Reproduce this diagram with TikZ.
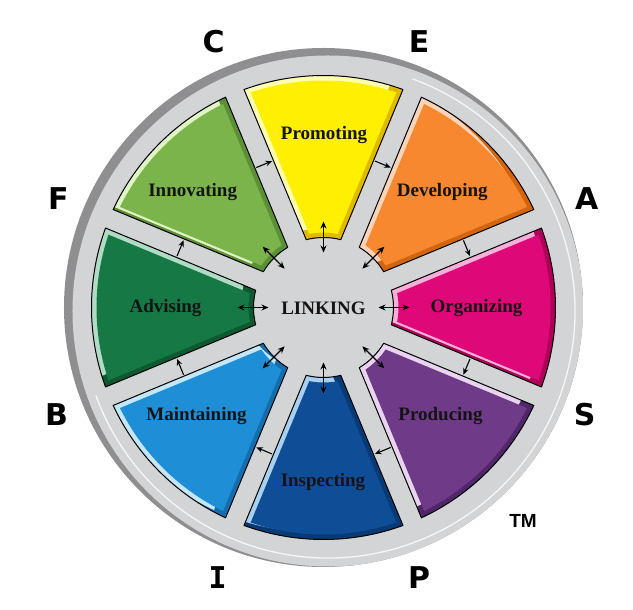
\documentclass[tikz,border=0pt]{standalone}
\usepackage{fontspec}
\setmainfont{Liberation Serif}
\newfontfamily\letfont{DejaVu Sans}
\newfontfamily\letmono{DejaVu Sans Mono}
\newfontfamily\tmfont{Liberation Sans}
\usetikzlibrary{arrows.meta,calc}

\definecolor{ringdark}{HTML}{8F8F91}
\definecolor{disc}{HTML}{D3D4D6}
\definecolor{promM}{HTML}{FFEF00}\definecolor{promL}{HTML}{FFFFB0}\definecolor{promD}{HTML}{E0BA00}
\definecolor{devM}{HTML}{F7882F}\definecolor{devL}{HTML}{FDD4B8}\definecolor{devD}{HTML}{D2650E}
\definecolor{orgM}{HTML}{DF0878}\definecolor{orgL}{HTML}{F8B0D8}\definecolor{orgD}{HTML}{AE0058}
\definecolor{proM}{HTML}{6F3A87}\definecolor{proL}{HTML}{E8D4EE}\definecolor{proD}{HTML}{50256A}
\definecolor{insM}{HTML}{0F4E97}\definecolor{insL}{HTML}{A8D0F0}\definecolor{insD}{HTML}{083A75}
\definecolor{maiM}{HTML}{1E8ED6}\definecolor{maiL}{HTML}{C4E6F9}\definecolor{maiD}{HTML}{146EAE}
\definecolor{advM}{HTML}{157845}\definecolor{advL}{HTML}{B0DCC6}\definecolor{advD}{HTML}{0D5A31}
\definecolor{innM}{HTML}{7CB44C}\definecolor{innL}{HTML}{E0F4C6}\definecolor{innD}{HTML}{5C9034}
\definecolor{txt}{HTML}{141414}

% #1 angle, #2 main colour, #3 light colour, #4 dark colour
\newcommand{\petal}[4]{%
  \pgfmathsetmacro\pAo{22.5-asin(10/232)}%
  \pgfmathsetmacro\pAi{22.5-asin(10/70)}%
  \pgfmathsetmacro\qAo{22.5-asin(15/227)}%
  \pgfmathsetmacro\qAi{22.5-asin(15/75)}%
  \begin{scope}
    \clip (#1-\pAo:232) arc[start angle=#1-\pAo, end angle=#1+\pAo, radius=232]
      -- (#1+\pAi:70) arc[start angle=#1+\pAi, end angle=#1-\pAi, radius=70] -- cycle;
    \fill[#4] (-300,-300) rectangle (300,300);
    \fill[#3, shift={(146:14)}] (#1-\pAo:232) arc[start angle=#1-\pAo, end angle=#1+\pAo, radius=232]
      -- (#1+\pAi:70) arc[start angle=#1+\pAi, end angle=#1-\pAi, radius=70] -- cycle;
    \fill[#2] (#1-\qAo:227) arc[start angle=#1-\qAo, end angle=#1+\qAo, radius=227]
      -- (#1+\qAi:75) arc[start angle=#1+\qAi, end angle=#1-\qAi, radius=75] -- cycle;
  \end{scope}
  \draw[black, line width=1pt, line join=round] (#1-\pAo:232) arc[start angle=#1-\pAo, end angle=#1+\pAo, radius=232]
      -- (#1+\pAi:70) arc[start angle=#1+\pAi, end angle=#1-\pAi, radius=70] -- cycle;
}

\tikzset{
  lbl/.style={font=\fontsize{19}{22}\selectfont\bfseries, text=txt, inner sep=0pt},
  bigletter/.style={font=\letfont\fontsize{30}{30}\selectfont\bfseries, text=black, inner sep=0pt},
  link/.style={line width=1.3pt, {Stealth[length=7pt,width=6pt]}-{Stealth[length=7pt,width=6pt]}},
  flow/.style={line width=1.1pt, -{Stealth[length=6.5pt,width=5.5pt]}}
}

\begin{document}
\begin{tikzpicture}[x=1pt,y=1pt]
\useasboundingbox (-323.5,-302.5) rectangle (309.5,307.5);
\fill[white] (-323.5,-302.5) rectangle (309.5,307.5);

% ring and disc
\fill[ringdark] (0,0) circle (259.5);
\begin{scope}
  \clip (0,0) circle (259.5);
  \fill[disc] (4.5,-3.5) circle (255.5);
\end{scope}
\draw[white, line width=1.3pt, opacity=0.8] (4.5,-3.5) ++(70:247) arc[start angle=70, end angle=-160, radius=247];

% sectors
\petal{90}{promM}{promL}{promD}
\petal{45}{devM}{devL}{devD}
\petal{0}{orgM}{orgL}{orgD}
\petal{-45}{proM}{proL}{proD}
\petal{-90}{insM}{insL}{insD}
\petal{-135}{maiM}{maiL}{maiD}
\petal{180}{advM}{advL}{advD}
\petal{135}{innM}{innL}{innD}

% labels
\node[lbl] (prom) at (0.5,172) {Promoting};
\node[lbl] (dev) at (118.8,115) {Developing};
\node[lbl] (org) at (153,-1) {Organizing};
\node[lbl] (pro) at (117,-109) {Producing};
\node[lbl] (ins) at (-0.5,-175) {Inspecting};
\node[lbl] (mai) at (-127,-109) {Maintaining};
\node[lbl] (adv) at (-158,-1) {Advising};
\node[lbl] (inn) at (-130.8,115) {Innovating};
\node[lbl] (linking) at (0,-1) {LINKING};

% radial double arrows
\foreach \t [count=\k] in {90,45,0,-45,-90,-135,180,135} {
  \coordinate (ri\k) at (\t:55);
  \coordinate (ro\k) at (\t:86);
  \draw[link] (ri\k) -- (ro\k);
}
% clockwise flow arrows in the gaps
\foreach \g [count=\k] in {112.5,67.5,22.5,-22.5,-67.5,-112.5,-157.5,157.5} {
  \coordinate (gs\k) at ($(\g:155)+(\g+90:8.5)$);
  \coordinate (ge\k) at ($(\g:155)+(\g-90:8.5)$);
  \draw[flow] (gs\k) -- (ge\k);
}

% outer letters
\node[bigletter] (lC) at (-109.8,265.5) {C};
\node[bigletter] (lE) at (95.5,265.5) {E};
\node[bigletter] (lF) at (-265,108.5) {F};
\node[bigletter] (lA) at (263.2,108.5) {A};
\node[bigletter] (lB) at (-267,-107.3) {B};
\node[bigletter] (lS) at (261.2,-107.3) {S};
\node[bigletter, font=\letmono\fontsize{30}{30}\selectfont\bfseries] (lI) at (-105.8,-270) {I};
\node[bigletter] (lP) at (95.5,-270) {P};
\node[font=\tmfont\fontsize{19}{19}\selectfont\bfseries, inner sep=0pt] (tm) at (199.5,-213.3) {TM};
\end{tikzpicture}
\end{document}
